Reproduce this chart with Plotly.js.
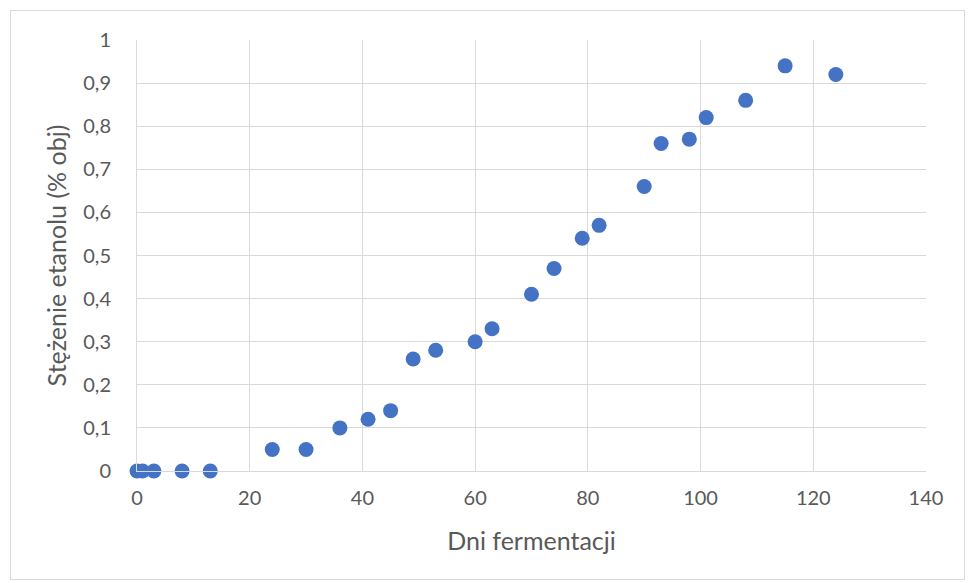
<!DOCTYPE html>
<html>
<head>
<meta charset="utf-8">
<script src="https://cdn.plot.ly/plotly-3.0.1.min.js"></script>
<style>
  html, body { margin: 0; padding: 0; background: #fff; }
  #chart { width: 968px; height: 583px; }
  #frame { position: absolute; left: 10px; top: 10px; width: 955px; height: 570px;
           border: 1px solid #d9d9d9; box-sizing: border-box; pointer-events: none; }
</style>
</head>
<body>
<div id="chart"></div>
<div id="frame"></div>
<script>
// Fermentation day and ethanol concentration (% by volume)
const days = [0, 1, 3, 8, 13, 24, 30, 36, 41, 45, 49, 53, 60, 63, 70, 74, 79, 82, 90, 93, 98, 101, 108, 115, 124];
const ethanol = [0, 0, 0, 0, 0, 0.05, 0.05, 0.10, 0.12, 0.14, 0.26, 0.28, 0.30, 0.33, 0.41, 0.47, 0.54, 0.57, 0.66, 0.76, 0.77, 0.82, 0.86, 0.94, 0.92];

const yTickVals = [0, 0.1, 0.2, 0.3, 0.4, 0.5, 0.6, 0.7, 0.8, 0.9, 1];
const yTickText = ['0', '0,1', '0,2', '0,3', '0,4', '0,5', '0,6', '0,7', '0,8', '0,9', '1'];
const xTickVals = [0, 20, 40, 60, 80, 100, 120, 140];

const family = 'Lato, "Open Sans", sans-serif';
const tickFont = { family: family, size: 20, color: '#595959' };
const titleFont = { family: family, size: 25, color: '#595959' };

Plotly.newPlot('chart', [{
  x: days,
  y: ethanol,
  type: 'scatter',
  mode: 'markers',
  marker: { color: '#4472C4', size: 15 },
  cliponaxis: false,
  hoverinfo: 'x+y'
}], {
  width: 968,
  height: 583,
  margin: { l: 137, r: 42, t: 40, b: 112 },
  paper_bgcolor: '#ffffff',
  plot_bgcolor: '#ffffff',
  font: tickFont,
  showlegend: false,
  xaxis: {
    range: [0, 140],
    tickvals: xTickVals,
    ticktext: xTickVals.map(String),
    showgrid: true,
    gridcolor: '#d9d9d9',
    gridwidth: 1,
    zeroline: false,
    showline: true,
    linecolor: '#d9d9d9',
    ticks: '',
    ticklabelstandoff: 9,
    tickfont: tickFont,
    title: { text: 'Dni fermentacji', font: titleFont, standoff: 24 }
  },
  yaxis: {
    range: [0, 1],
    tickvals: yTickVals,
    ticktext: yTickText,
    showgrid: true,
    gridcolor: '#d9d9d9',
    gridwidth: 1,
    zeroline: false,
    showline: true,
    linecolor: '#d9d9d9',
    ticks: '',
    ticklabelstandoff: 21,
    tickfont: tickFont,
    title: { text: 'Stężenie etanolu (% obj)', font: titleFont, standoff: 9 }
  }
}, { displayModeBar: false, staticPlot: true });
</script>
</body>
</html>
